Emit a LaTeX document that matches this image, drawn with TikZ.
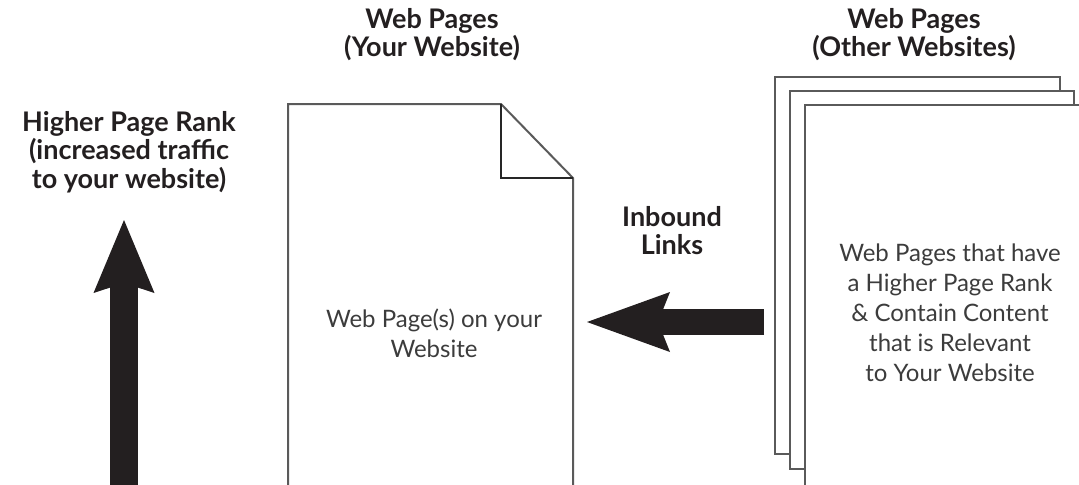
\documentclass[tikz,border=0pt]{standalone}
\usepackage{fontspec}
\setmainfont{Lato}
\usetikzlibrary{arrows.meta}

\definecolor{edgegray}{HTML}{5A5A5A}
\definecolor{textgray}{HTML}{3C3C3C}
\definecolor{arrowblack}{HTML}{231F20}
\newcommand{\headfont}{\bfseries\fontsize{13.5}{14.2}\selectfont}
\newcommand{\bodyfont}{\fontsize{12}{15}\selectfont}

\tikzset{
  head/.style={font=\headfont, align=center, inner sep=0pt, anchor=north, text=arrowblack},
  body/.style={font=\bodyfont, align=center, inner sep=0pt, anchor=north, text=textgray},
  sheet/.style={draw=edgegray, line width=1pt, fill=white},
  fold/.style={draw=black!85, line width=1pt},
  bigarrow/.style={draw=arrowblack, line width=#1},
}

\begin{document}
\begin{tikzpicture}[x=0.5pt,y=-0.5pt]
\useasboundingbox (0,0) rectangle (1079,484);
\clip (0,0) rectangle (1079,484);
% page of your own website, with folded corner
\draw [sheet] (288,500) -- (288,104) -- (501,104) -- (573,178) -- (573,500);
\draw [fold] (501,104) -- (501,178) -- (573,178);
% stack of pages of other websites
\draw [sheet] (775,77) rectangle (1060,454);
\draw [sheet] (790,91) rectangle (1074,469);
\draw [sheet] (805,105) rectangle (1100,500);
% labels
\node [head] (rank) at (129,111) {Higher Page Rank\\(increased traffic\\to your website)};
\node [head] (ownhead) at (432,8) {Web Pages\\(Your Website)};
\node [head] (otherhead) at (914,8) {Web Pages\\(Other Websites)};
\node [head] (inbound) at (672,206) {Inbound\\Links};
\node [body] (owntext) at (434,308) {Web Page(s) on your\\Website};
\node [body] (othertext) at (950,243) {Web Pages that have\\a Higher Page Rank\\\& Contain Content\\that is Relevant\\to Your Website};
% arrows
\coordinate (linkfrom) at (764,322);
\coordinate (linkto) at (587,322);
\coordinate (risefrom) at (124,500);
\coordinate (riseto) at (124,220);
\draw [bigarrow=13pt, -{Stealth[length=41.5pt,width=30pt,inset=6pt,line width=0pt,fill=arrowblack]}] (linkfrom) -- (linkto);
\draw [bigarrow=14pt, -{Stealth[length=36.5pt,width=30.5pt,inset=5pt,line width=0pt,fill=arrowblack]}] (risefrom) -- (riseto);
\end{tikzpicture}
\end{document}
